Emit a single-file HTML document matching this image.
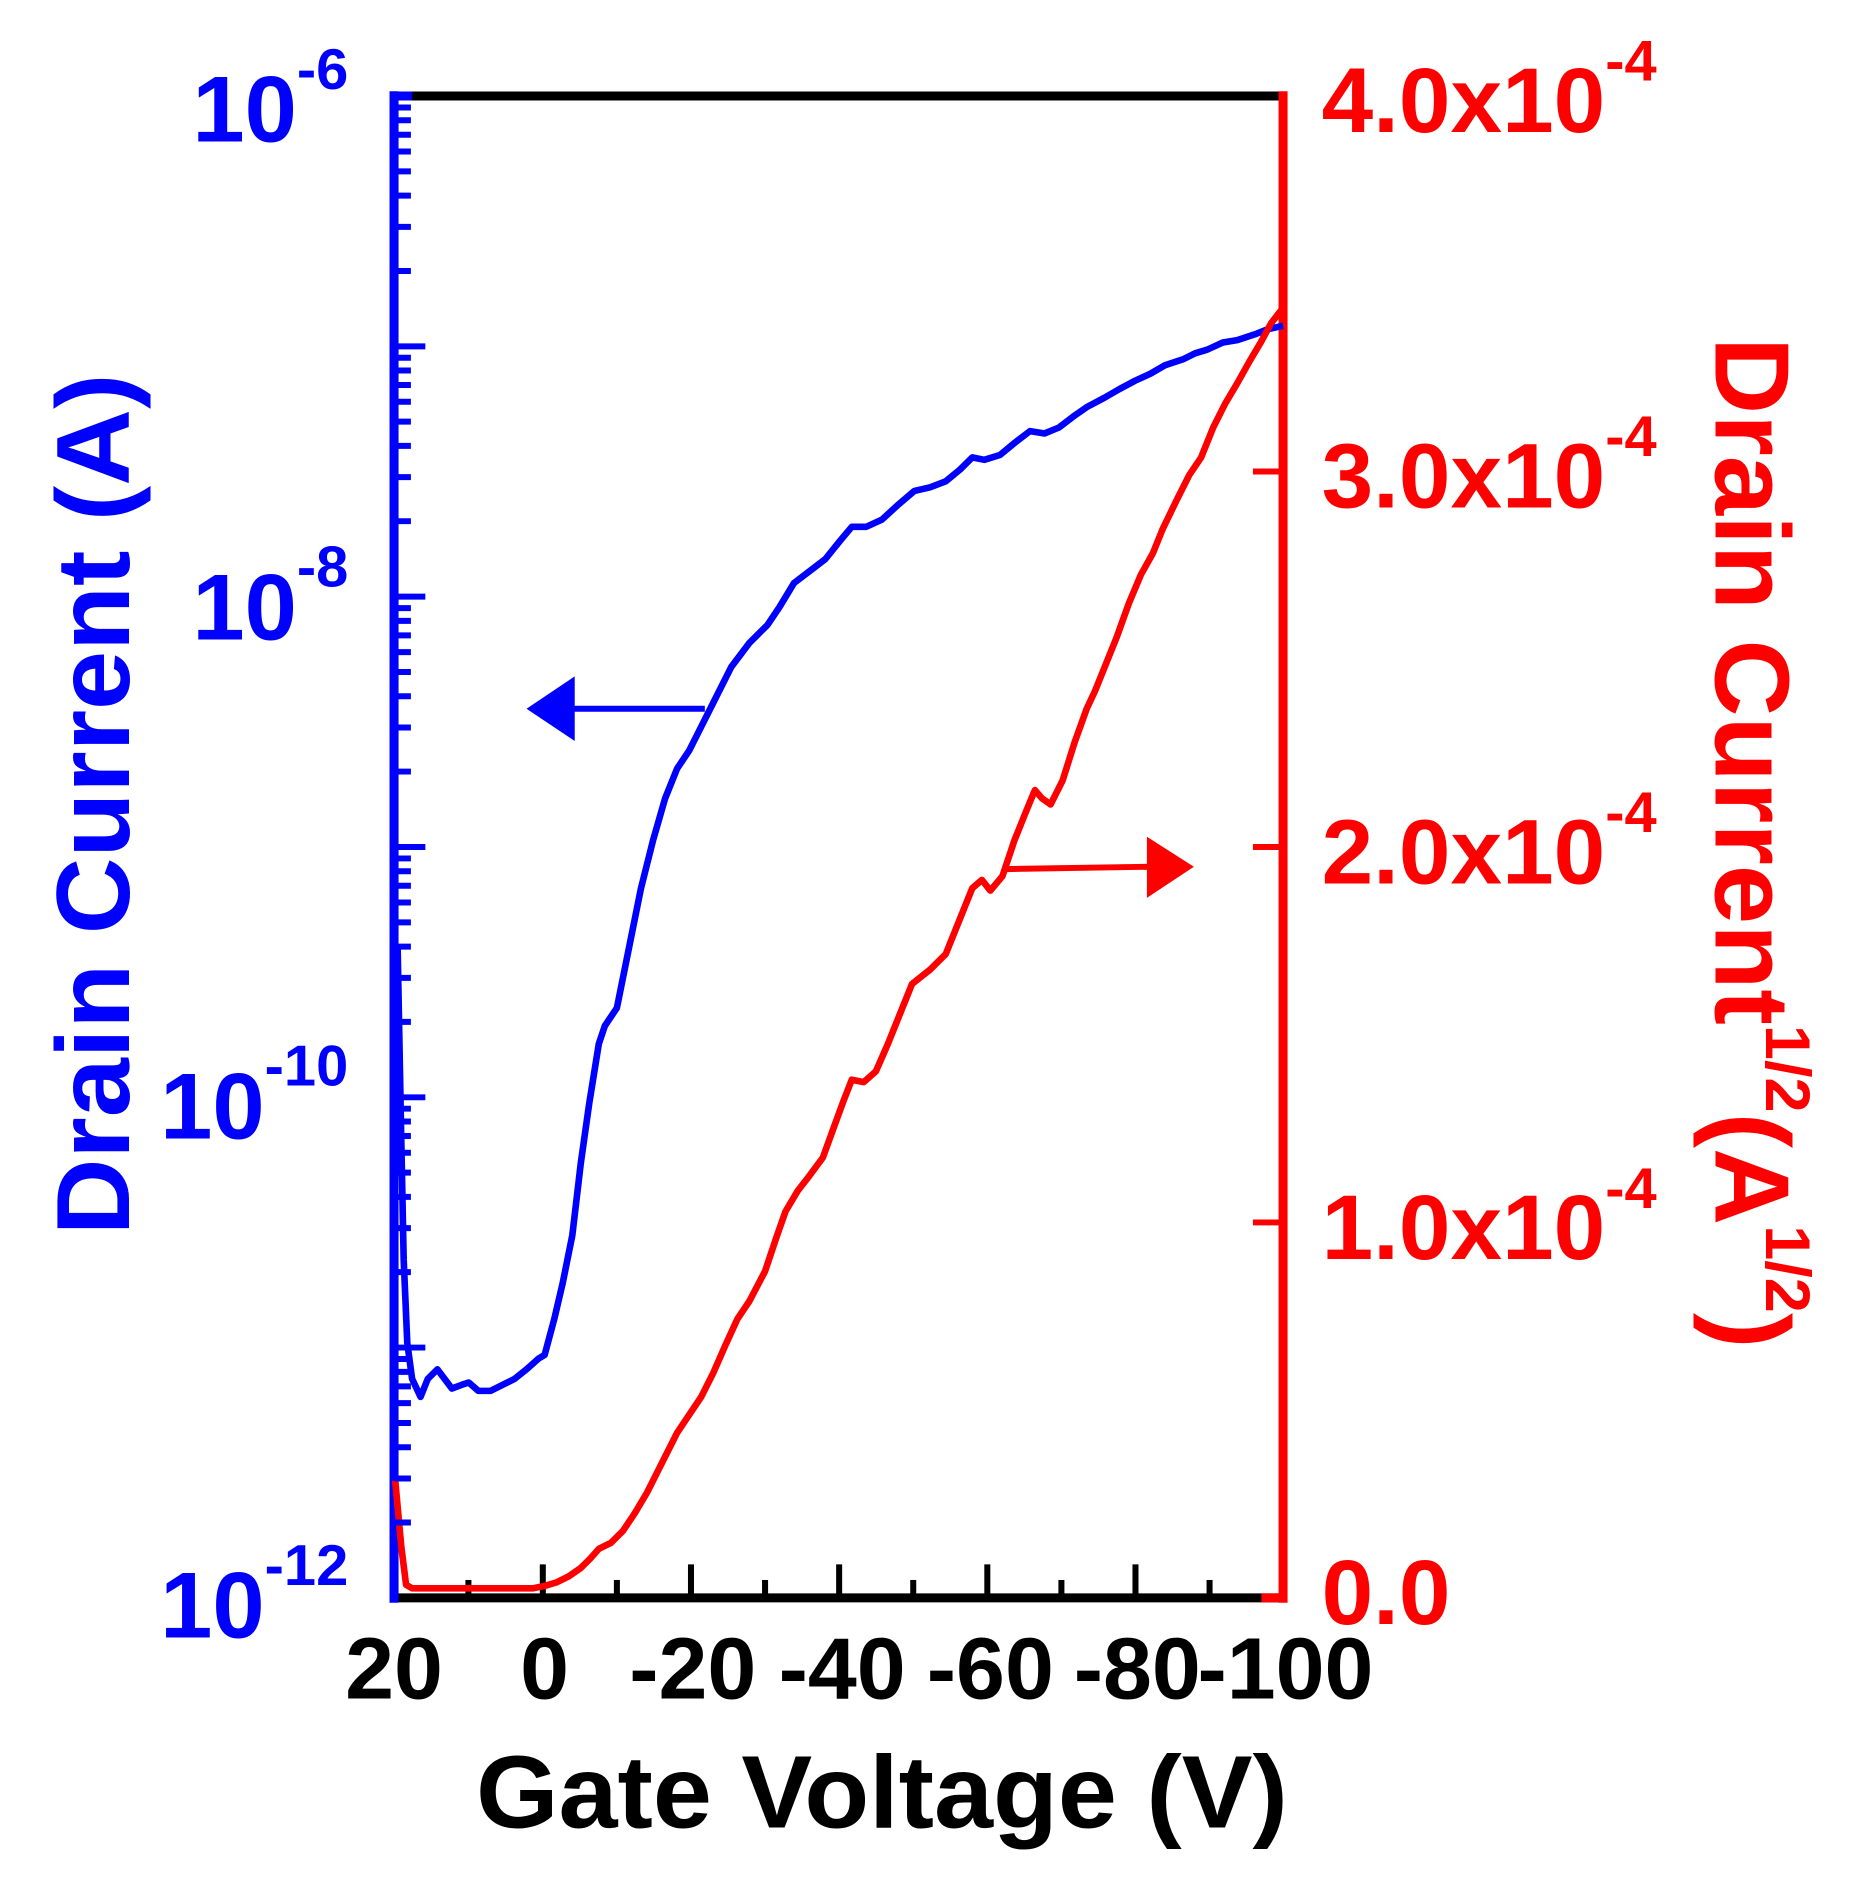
<!DOCTYPE html>
<html><head><style>html,body{margin:0;padding:0;background:#fff}svg{display:block}</style></head>
<body>
<svg width="1852" height="1880" viewBox="2.9 -2.2 1537.4 1570.9" preserveAspectRatio="none" xmlns="http://www.w3.org/2000/svg" font-family="Liberation Sans, Arial, sans-serif" font-weight="bold">
<!-- bottom ticks -->
<g stroke="#000" stroke-width="5">
<line x1="453.5" y1="1333" x2="453.5" y2="1305"/><line x1="576.5" y1="1333" x2="576.5" y2="1305"/><line x1="699.5" y1="1333" x2="699.5" y2="1305"/><line x1="822.5" y1="1333" x2="822.5" y2="1305"/><line x1="945.5" y1="1333" x2="945.5" y2="1305"/>
<line x1="391.75" y1="1333" x2="391.75" y2="1318"/><line x1="515" y1="1333" x2="515" y2="1318"/><line x1="638" y1="1333" x2="638" y2="1318"/><line x1="761" y1="1333" x2="761" y2="1318"/><line x1="884" y1="1333" x2="884" y2="1318"/><line x1="1007" y1="1333" x2="1007" y2="1318"/>
</g>
<!-- right ticks -->
<g stroke="#f00" stroke-width="5">
<line x1="1068" y1="391.75" x2="1043" y2="391.75"/><line x1="1068" y1="705.5" x2="1043" y2="705.5"/><line x1="1068" y1="1019.25" x2="1043" y2="1019.25"/>
</g>
<!-- axes -->
<line x1="330" y1="78" x2="1068" y2="78" stroke="#000" stroke-width="7.5"/>
<line x1="330" y1="1333" x2="1068" y2="1333" stroke="#000" stroke-width="7.5"/>
<line x1="1068" y1="74" x2="1068" y2="1337" stroke="#f00" stroke-width="7.5"/>
<line x1="330" y1="74" x2="330" y2="1337" stroke="#00f" stroke-width="7.5"/>
<line x1="330" y1="78" x2="345" y2="78" stroke="#00f" stroke-width="7.5"/>
<line x1="1050" y1="1333" x2="1068" y2="1333" stroke="#f00" stroke-width="7.5"/>
<!-- blue curve -->
<polyline fill="none" stroke="#00f" stroke-width="5.5" stroke-linejoin="round" points="333,790 336,950 338,1050 341,1120 345,1150 352,1165 358,1150 366,1142 378,1158 386,1155 392,1153 400,1160 410,1160 420,1155 430,1150 440,1142 450,1133 455,1130 463,1100 470,1070 478,1030 485,970 492,920 500,870 505,855 515,840 525,790 535,740 545,700 555,665 565,640 575,625 585,605 595,585 610,555 625,535 640,520 650,505 662,485 675,475 688,465 700,450 710,438 722,438 735,432 748,420 762,408 775,405 788,400 800,390 810,380 820,382 833,378 845,368 858,358 870,360 882,355 895,345 905,338 920,330 932,323 945,316 958,310 970,303 985,298 995,293 1005,290 1018,284 1030,282 1045,277 1055,273 1068,270"/>
<!-- red curve -->
<polyline fill="none" stroke="#f00" stroke-width="5.5" stroke-linejoin="round" points="331,1235 336,1290 340,1322 345,1325 360,1325 400,1325 445,1325 455,1323 465,1320 475,1315 485,1308 493,1300 500,1292 510,1287 520,1277 530,1262 540,1245 550,1225 560,1205 565,1195 575,1180 585,1165 595,1145 605,1122 615,1100 625,1085 638,1060 648,1030 655,1010 665,993 675,980 686,965 695,940 703,918 710,900 720,902 730,893 740,870 750,845 760,820 775,808 788,795 800,765 810,740 818,733 825,742 835,730 845,700 855,675 862,658 868,665 875,670 885,650 895,618 905,590 912,575 920,555 930,530 940,502 950,478 960,460 968,440 980,415 990,395 1000,380 1010,355 1020,335 1030,318 1040,300 1050,283 1058,268 1068,255"/>
<!-- arrows -->
<line x1="588" y1="590" x2="475" y2="590" stroke="#00f" stroke-width="5"/>
<polygon points="440,590 480,563 480,617" fill="#00f"/>
<line x1="838" y1="724" x2="958" y2="722" stroke="#f00" stroke-width="5"/>
<polygon points="994,722 955,697 955,748" fill="#f00"/>
<!-- left labels -->
<g fill="#00f" font-size="78" text-anchor="end">
<text x="292" y="116">10<tspan font-size="48" dy="-44">-6</tspan></text>
<text x="292" y="532">10<tspan font-size="48" dy="-44">-8</tspan></text>
<text x="292" y="949">10<tspan font-size="48" dy="-44">-10</tspan></text>
<text x="292" y="1366">10<tspan font-size="48" dy="-44">-12</tspan></text>
</g>
<!-- right labels -->
<g fill="#f00" font-size="77">
<text x="1100" y="108">4.0x10<tspan font-size="48" dy="-43">-4</tspan></text>
<text x="1100" y="422">3.0x10<tspan font-size="48" dy="-43">-4</tspan></text>
<text x="1100" y="736">2.0x10<tspan font-size="48" dy="-43">-4</tspan></text>
<text x="1100" y="1050">1.0x10<tspan font-size="48" dy="-43">-4</tspan></text>
<text x="1100" y="1355">0.0</text>
</g>
<!-- bottom labels -->
<g fill="#000" font-size="73" text-anchor="middle">
<text x="330" y="1417">20</text><text x="455" y="1417">0</text><text x="578" y="1417">-20</text><text x="702" y="1417">-40</text><text x="825" y="1417">-60</text><text x="947" y="1417">-80</text><text x="1070" y="1417">-100</text>
</g>
<!-- titles -->
<text x="735" y="1525" font-size="86" text-anchor="middle" textLength="674" lengthAdjust="spacingAndGlyphs">Gate Voltage (V)</text>
<text transform="translate(110,670) rotate(-90)" fill="#00f" font-size="86" text-anchor="middle" textLength="720" lengthAdjust="spacingAndGlyphs">Drain Current (A)</text>
<text transform="translate(1427,702) rotate(90)" fill="#f00" font-size="88" text-anchor="middle" textLength="845" lengthAdjust="spacingAndGlyphs">Drain Current<tspan font-size="52" dy="-42">1/2</tspan><tspan dy="42">(A</tspan><tspan font-size="52" dy="-42">1/2</tspan><tspan dy="42">)</tspan></text>
<g stroke="#00f" stroke-width="5">
<line x1="330" y1="287.2" x2="356" y2="287.2"/><line x1="330" y1="496.3" x2="356" y2="496.3"/><line x1="330" y1="705.5" x2="356" y2="705.5"/><line x1="330" y1="914.7" x2="356" y2="914.7"/><line x1="330" y1="1123.8" x2="356" y2="1123.8"/>
<path fill="none" d="
M330,224.2h14M330,187.4h14M330,161.3h14M330,141.0h14M330,124.4h14M330,110.4h14M330,98.3h14M330,87.6h14
M330,433.3h14M330,396.5h14M330,370.4h14M330,350.1h14M330,333.5h14M330,319.5h14M330,307.4h14M330,296.7h14
M330,642.5h14M330,605.7h14M330,579.6h14M330,559.3h14M330,542.7h14M330,528.7h14M330,516.6h14M330,505.9h14
M330,851.7h14M330,814.9h14M330,788.8h14M330,768.5h14M330,751.9h14M330,737.9h14M330,725.8h14M330,715.1h14
M330,1060.8h14M330,1024.0h14M330,997.9h14M330,977.6h14M330,961.0h14M330,947.0h14M330,934.9h14M330,924.2h14
M330,1270.0h14M330,1233.2h14M330,1207.1h14M330,1186.8h14M330,1170.2h14M330,1156.2h14M330,1144.1h14M330,1133.4h14"/>
</g>
</svg>
</body></html>
